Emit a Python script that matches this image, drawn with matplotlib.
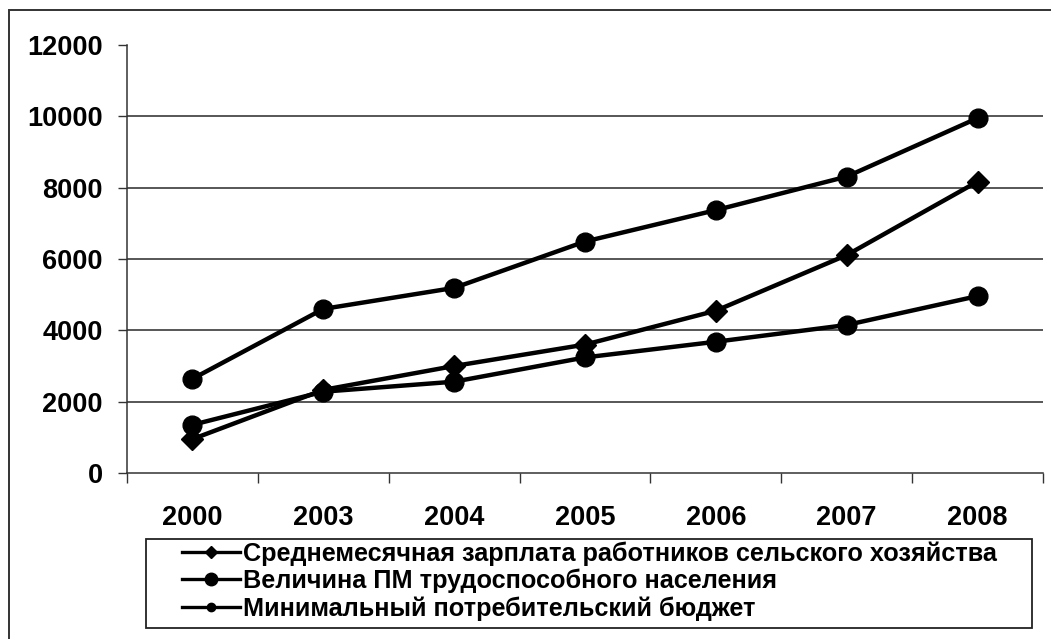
import matplotlib
matplotlib.use("Agg")
import matplotlib.pyplot as plt
from matplotlib.lines import Line2D
from matplotlib.patches import Rectangle

years = ['2000', '2003', '2004', '2005', '2006', '2007', '2008']

# Среднемесячная зарплата работников сельского хозяйства
salary = [950, 2330, 3000, 3600, 4550, 6110, 8170]
# Величина ПМ трудоспособного населения
pm = [1350, 2280, 2560, 3240, 3680, 4150, 4960]
# Минимальный потребительский бюджет
budget = [2640, 4600, 5190, 6490, 7370, 8310, 9950]

labels = ['Среднемесячная зарплата работников сельского хозяйства',
          'Величина ПМ трудоспособного населения',
          'Минимальный потребительский бюджет']

plt.rcParams['font.family'] = ['Liberation Sans', 'DejaVu Sans']

W, H = 1051, 639
fig = plt.figure(figsize=(W / 100, H / 100), dpi=100)
ax = fig.add_axes([127 / W, 1 - 473 / H, (1043 - 127) / W, (473 - 45) / H])

x = list(range(len(years)))
ax.plot(x, salary, color='black', lw=3.2, marker='D', markersize=11, zorder=3)
ax.plot(x, pm, color='black', lw=3.2, marker='o', markersize=13.5, zorder=4)
ax.plot(x, budget, color='black', lw=3.2, marker='o', markersize=13.5, zorder=4)

ax.set_xlim(-0.5, len(years) - 0.5)
ax.set_ylim(0, 12000)
ax.set_yticks(range(0, 12001, 2000))
ax.set_yticklabels([str(v) for v in range(0, 12001, 2000)],
                   fontsize=19.5, fontweight='bold')
ax.set_xticks(x)
ax.set_xticklabels(years, fontsize=19.5, fontweight='bold')
ax.set_xticks([i - 0.5 for i in range(len(years) + 1)], minor=True)

ax.tick_params(axis='y', direction='out', length=6.5, width=1, color='#333333', pad=11)
ax.tick_params(axis='x', which='major', length=0, pad=23)
ax.tick_params(axis='x', which='minor', direction='out', length=7, width=1, color='#333333')

for side in ['top', 'right']:
    ax.spines[side].set_visible(False)
for side in ['left', 'bottom']:
    ax.spines[side].set_color('#333333')
    ax.spines[side].set_linewidth(1.1)

ax.yaxis.grid(True, color='#3a3a3a', lw=1.2)
gl = ax.get_ygridlines()
gl[0].set_visible(False)
gl[-1].set_visible(False)
ax.set_axisbelow(True)

# outer frame (only left and top edges fall inside the image)
fig.add_artist(Rectangle((9 / W, -0.05), 1.2, 1.05 - 10 / H, transform=fig.transFigure,
                         fill=False, ec='#333333', lw=1.4))

# legend box
fig.add_artist(Rectangle((146 / W, 1 - 628 / H), 886 / W, 89 / H, transform=fig.transFigure,
                         fill=False, ec='#222222', lw=1.3))

handles = [
    Line2D([], [], color='black', lw=2.4, marker='D', markersize=6),
    Line2D([], [], color='black', lw=2.4, marker='o', markersize=9),
    Line2D([], [], color='black', lw=2.4, marker='o', markersize=6),
]
fig.legend(handles, labels, loc='upper left', bbox_to_anchor=(182 / W, 1 - 541 / H),
           frameon=False, borderaxespad=0, borderpad=0, handlelength=2.3,
           handletextpad=0.1, labelspacing=0.13,
           prop={'family': ['Liberation Sans', 'DejaVu Sans'], 'weight': 'bold', 'size': 18.2})

fig.savefig('out.png', dpi=100)
